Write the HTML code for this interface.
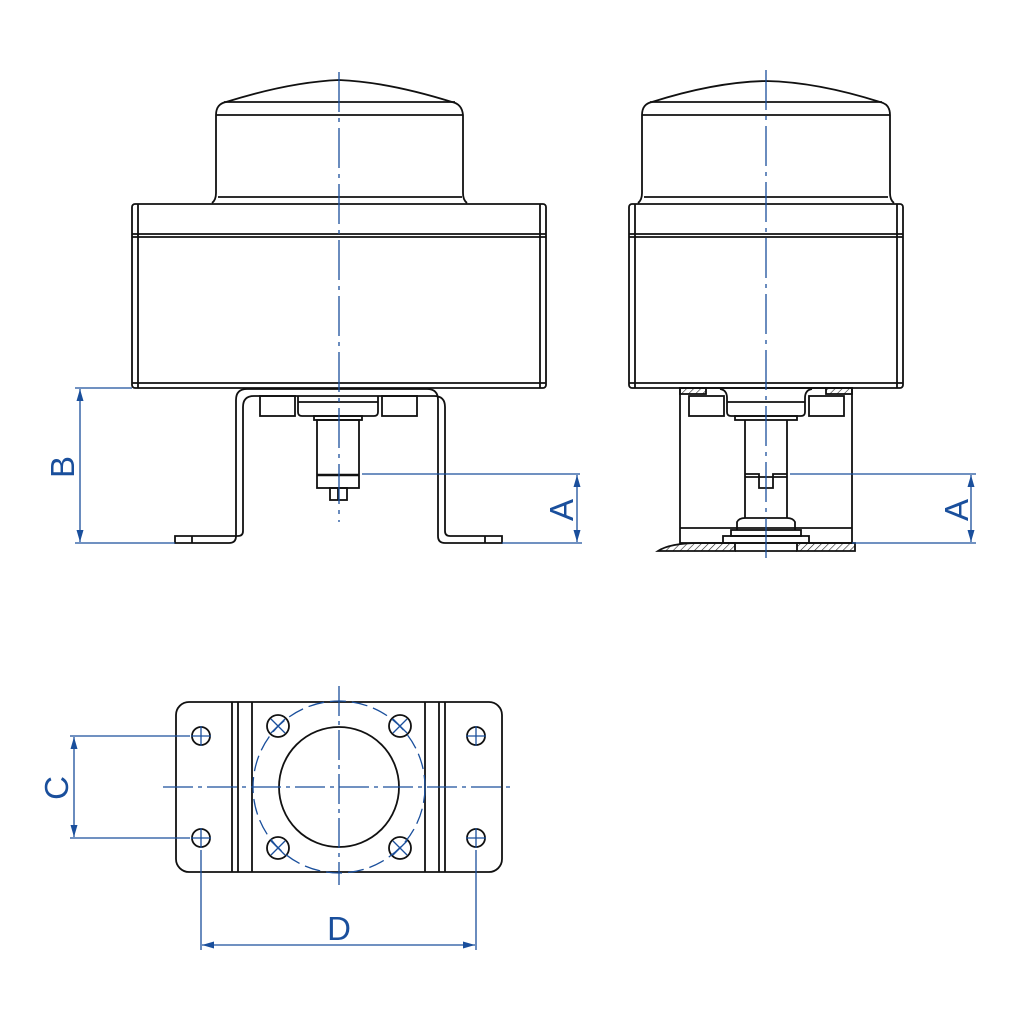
<!DOCTYPE html>
<html><head><style>body{margin:0;background:#fff}svg{display:block}</style></head><body>
<svg width="1024" height="1024" viewBox="0 0 1024 1024" xmlns="http://www.w3.org/2000/svg" font-family="Liberation Sans, sans-serif">
<defs>
<marker id="ar" markerWidth="14" markerHeight="10" refX="12" refY="3.5" orient="auto-start-reverse" markerUnits="userSpaceOnUse"><path d="M0,0 L12,3.5 L0,7 Z" fill="#1a4f9c"/></marker>
<pattern id="h" width="5" height="5" patternUnits="userSpaceOnUse" patternTransform="rotate(45)"><line x1="0" y1="0" x2="0" y2="5" stroke="#222" stroke-width="1.2"/></pattern>
</defs>
<g fill="none" stroke="#111" stroke-width="1.8">
<path d="M212,203 Q216,200 216,193 L216,115 Q216,104 226,102 Q290,82 339,80 Q388,82 452,102 Q462,104 463,115 L463,193 Q463,200 467,203"/>
<line x1="224" y1="102" x2="455" y2="102"/><line x1="216" y1="115" x2="463" y2="115"/><line x1="218" y1="197" x2="462" y2="197"/>
<rect x="132" y="204" width="414" height="184" rx="3"/>
<line x1="138" y1="204" x2="138" y2="388"/><line x1="540" y1="204" x2="540" y2="388"/>
<line x1="132" y1="234" x2="546" y2="234"/><line x1="132" y1="237" x2="546" y2="237"/><line x1="132" y1="383" x2="546" y2="383"/>
<path d="M175,543 H229 Q236,543 236,536 V400 Q236,389 247,389 H427 Q438,389 438,400 V536 Q438,543 445,543 H502 V536 H450 Q445,536 445,531 V407 Q445,396 434,396 H254 Q243,396 243,407 V531 Q243,536 238,536 H175 Z"/>
<line x1="192" y1="536" x2="192" y2="543"/><line x1="485" y1="536" x2="485" y2="543"/>
<rect x="260" y="396" width="35" height="20"/><rect x="382" y="396" width="35" height="20"/>
<path d="M298,396 L298,412 Q298,416 302,416 L374,416 Q378,416 378,412 L378,396"/><line x1="298" y1="402" x2="378" y2="402"/>
<rect x="314" y="416" width="48" height="4"/>
<rect x="317" y="420" width="42" height="68"/><line x1="317" y1="475" x2="359" y2="475" stroke-width="2.4"/>
<rect x="330" y="488" width="17" height="12"/><line x1="338" y1="488" x2="338" y2="500"/>
<path d="M638,203 Q642,200 642,193 L642,115 Q642,104 652,102 Q715,82 766,81 Q817,82 880,102 Q890,104 890,115 L890,193 Q890,200 894,203"/>
<line x1="650" y1="102" x2="882" y2="102"/><line x1="642" y1="115" x2="890" y2="115"/><line x1="644" y1="197" x2="888" y2="197"/>
<rect x="629" y="204" width="274" height="184" rx="3"/>
<line x1="635" y1="204" x2="635" y2="388"/><line x1="897" y1="204" x2="897" y2="388"/>
<line x1="629" y1="234" x2="903" y2="234"/><line x1="629" y1="237" x2="903" y2="237"/><line x1="629" y1="383" x2="903" y2="383"/>
<rect x="680" y="388" width="172" height="155"/>
<line x1="680" y1="528" x2="852" y2="528"/>
<rect x="680" y="388" width="26" height="6" fill="url(#h)"/><rect x="826" y="388" width="26" height="6" fill="url(#h)"/>
<rect x="689" y="396" width="35" height="20"/><rect x="809" y="396" width="35" height="20"/>
<path d="M720,389 Q727,390 727,398 L727,412 Q727,416 731,416 L801,416 Q805,416 805,412 L805,398 Q805,390 812,389"/><line x1="727" y1="402" x2="805" y2="402"/>
<rect x="735" y="416" width="62" height="4"/>
<path d="M745,420 L745,518 M787,420 L787,518 M745,474 L759,474 L759,488 L773,488 L773,474 L787,474"/>
<line x1="745" y1="477" x2="787" y2="477"/>
<path d="M737,530 L737,522 Q739,518 745,518 L787,518 Q793,518 795,522 L795,530"/>
<rect x="731" y="530" width="70" height="6"/><rect x="723" y="536" width="86" height="7"/>
<path d="M658,551 Q670,543 700,543 L735,543 L735,551 Z" fill="url(#h)"/>
<path d="M797,543 L855,543 L855,551 L797,551 Z" fill="url(#h)"/>
<line x1="735" y1="551" x2="797" y2="551"/>
<rect x="176" y="702" width="326" height="170" rx="13"/>
<line x1="232" y1="702" x2="232" y2="872"/><line x1="238" y1="702" x2="238" y2="872"/><line x1="252" y1="702" x2="252" y2="872"/>
<line x1="425" y1="702" x2="425" y2="872"/><line x1="439" y1="702" x2="439" y2="872"/><line x1="445" y1="702" x2="445" y2="872"/>
<circle cx="339" cy="787" r="60"/>
<circle cx="278" cy="726" r="11"/><circle cx="400" cy="726" r="11"/><circle cx="278" cy="848" r="11"/><circle cx="400" cy="848" r="11"/>
<circle cx="201" cy="736" r="9"/><circle cx="476" cy="736" r="9"/><circle cx="201" cy="838" r="9"/><circle cx="476" cy="838" r="9"/>
</g>
<g fill="none" stroke="#1a4f9c" stroke-width="1.3">
<line x1="339" y1="72" x2="339" y2="522" stroke-dasharray="40,6,4,6"/>
<line x1="766" y1="70" x2="766" y2="562" stroke-dasharray="40,6,4,6"/>
<circle cx="339" cy="787" r="86" stroke-dasharray="16,6"/>
<line x1="163" y1="787" x2="513" y2="787" stroke-dasharray="30,5,4,5"/>
<line x1="339" y1="686" x2="339" y2="885" stroke-dasharray="30,5,4,5"/>
<path d="M271,719 L285,733 M285,719 L271,733 M393,719 L407,733 M407,719 L393,733 M271,841 L285,855 M285,841 L271,855 M393,841 L407,855 M407,841 L393,855"/>
<path d="M191,736 H211 M201,726 V746 M466,736 H486 M476,726 V746 M191,838 H211 M201,828 V848 M466,838 H486 M476,828 V848"/>
<line x1="362" y1="474" x2="580" y2="474"/>
<line x1="502" y1="543" x2="582" y2="543"/>
<line x1="577" y1="475" x2="577" y2="542" marker-start="url(#ar)" marker-end="url(#ar)"/>
<line x1="132" y1="388" x2="75" y2="388"/><line x1="175" y1="543" x2="75" y2="543"/>
<line x1="80" y1="389" x2="80" y2="542" marker-start="url(#ar)" marker-end="url(#ar)"/>
<line x1="790" y1="474" x2="976" y2="474"/><line x1="852" y1="543" x2="976" y2="543"/>
<line x1="971" y1="475" x2="971" y2="542" marker-start="url(#ar)" marker-end="url(#ar)"/>
<line x1="70" y1="736" x2="190" y2="736"/><line x1="70" y1="838" x2="190" y2="838"/>
<line x1="74" y1="737" x2="74" y2="837" marker-start="url(#ar)" marker-end="url(#ar)"/>
<line x1="201" y1="850" x2="201" y2="950"/><line x1="476" y1="850" x2="476" y2="950"/>
<line x1="202" y1="945" x2="475" y2="945" marker-start="url(#ar)" marker-end="url(#ar)"/>
</g>
<g fill="#1a4f9c" font-size="33">
<text x="0" y="0" transform="translate(573,510) rotate(-90)" text-anchor="middle">A</text>
<text x="0" y="0" transform="translate(968,510) rotate(-90)" text-anchor="middle">A</text>
<text x="0" y="0" transform="translate(74,467) rotate(-90)" text-anchor="middle">B</text>
<text x="0" y="0" transform="translate(68,788) rotate(-90)" text-anchor="middle">C</text>
<text x="339" y="940" text-anchor="middle">D</text>
</g>
</svg>
</body></html>
